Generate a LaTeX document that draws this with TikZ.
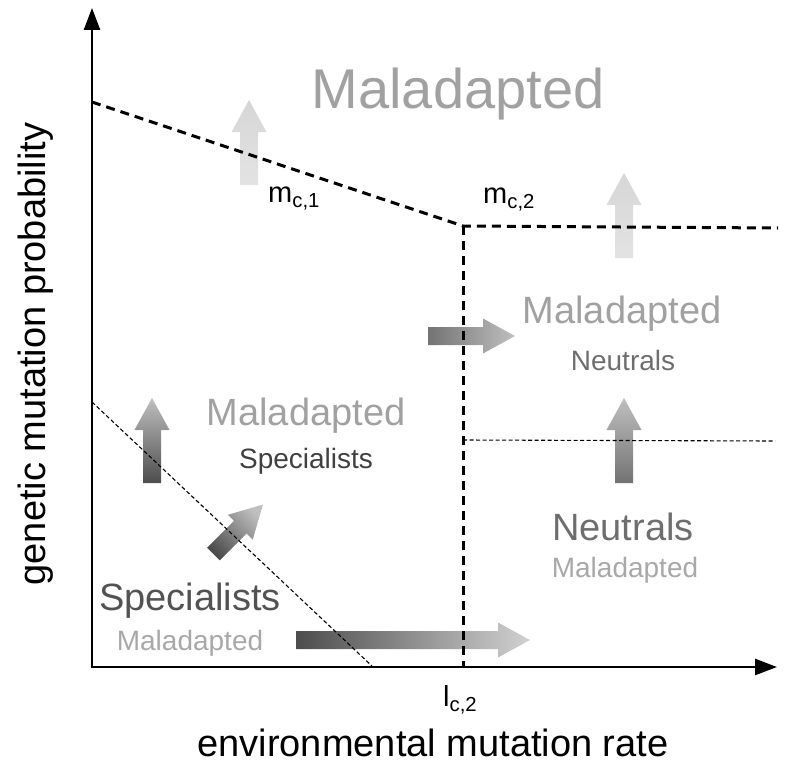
\documentclass[tikz,border=0pt]{standalone}
\usepackage{fontspec}
\setmainfont{Liberation Sans}
\usetikzlibrary{arrows.meta}

% text greys
\definecolor{malgrey}{gray}{0.63}
\definecolor{malpale}{gray}{0.66}
\definecolor{specdark}{gray}{0.25}
\definecolor{specmid}{gray}{0.32}
\definecolor{neutgrey}{gray}{0.43}

% arrow greys
\definecolor{shadeA}{gray}{0.89}
\definecolor{shadeB}{gray}{0.84}
\definecolor{shadeC}{gray}{0.30}
\definecolor{shadeD}{gray}{0.45}
\definecolor{shadeE}{gray}{0.75}
\definecolor{shadeF}{gray}{0.82}

\tikzset{
  axisline/.style={line width=2.6pt, {Triangle[width=16pt,length=22pt]}-{Triangle[width=16pt,length=22pt]}},
  critline/.style={line width=3pt, dash pattern=on 9pt off 6pt},
  thinline/.style={line width=1.1pt, dash pattern=on 4pt off 2.5pt},
  txt/.style={inner sep=0pt, anchor=base},
  titletxt/.style={txt, font=\fontsize{56}{60}\selectfont},
  regionbig/.style={txt, font=\fontsize{38}{42}\selectfont},
  regionsmall/.style={txt, font=\fontsize{28}{32}\selectfont},
  axistxt/.style={txt, font=\fontsize{38}{42}\selectfont},
  crittxt/.style={txt, anchor=base west, font=\fontsize{29}{32}\selectfont},
}

% block arrow: options, start, angle, length
\newcommand{\blockarrow}[4]{%
  \shade[shift={#2}, rotate=#3, #1] (0,-9) -- ({#4-32},-9) -- ({#4-32},-17.5) -- (#4,0)
    -- ({#4-32},17.5) -- ({#4-32},9) -- (0,9) -- cycle;
}

\begin{document}
\begin{tikzpicture}[x=1pt,y=-1pt]
  \useasboundingbox (0,0) rectangle (786,768);

  % Shaded arrows (drawn below the lines)
  \blockarrow{bottom color=shadeA, top color=shadeB}{(249,185)}{90}{85}
  \blockarrow{bottom color=shadeA, top color=shadeB}{(624,258)}{90}{85}
  \blockarrow{left color=shadeD, right color=shadeE}{(428,336)}{0}{87}
  \blockarrow{bottom color=shadeD, top color=shadeE}{(624,483)}{90}{85}
  \blockarrow{bottom color=shadeC, top color=shadeE}{(152,483)}{90}{85}
  \blockarrow{bottom color=shadeC, top color=shadeE, shading angle=-45}{(213.5,554)}{45}{70}
  \blockarrow{left color=shadeC, right color=shadeF}{(296,640)}{0}{234}

  % Axes
  \coordinate (O) at (92,667);
  \coordinate (Ytop) at (92,8);
  \coordinate (Xend) at (777,667);
  \draw[axisline] (Ytop) -- (O) -- (Xend);

  % Critical lines
  \coordinate (M1) at (92,102);
  \coordinate (C) at (463,226);
  \coordinate (M2) at (778,228);
  \coordinate (L2) at (463,667);
  \draw[critline] (M1) -- (C) -- (M2);
  \draw[critline] (C) -- (L2);

  % Thin boundaries
  \coordinate (N1) at (463,440);
  \coordinate (N2) at (775,441);
  \coordinate (S1) at (92,402);
  \coordinate (S2) at (373,667);
  \draw[thinline] (N1) -- (N2);
  \draw[thinline] (S1) -- (S2);

  % Region labels
  \node[titletxt, text=malgrey] (malTop) at (458,108) {Maladapted};
  \node[regionbig, text=malgrey] (malNeut) at (622,323) {Maladapted};
  \node[regionsmall, text=neutgrey] (neutSmall) at (623,370) {Neutrals};
  \node[regionbig, text=malgrey] (malSpec) at (306,425) {Maladapted};
  \node[regionsmall, text=specdark] (specSmall) at (306,468) {Specialists};
  \node[regionbig, text=specmid] (specBig) at (190,610) {Specialists};
  \node[regionsmall, text=malpale] (malLow) at (190,650) {Maladapted};
  \node[regionbig, text=neutgrey] (neutBig) at (623,540) {Neutrals};
  \node[regionsmall, text=malpale] (malRight) at (625,577) {Maladapted};

  % Critical values
  \node[crittxt] (mc1) at (268,202) {m\textsubscript{c,1}};
  \node[crittxt] (mc2) at (483,203) {m\textsubscript{c,2}};
  \node[crittxt] (lc2) at (443,706) {l\textsubscript{c,2}};

  % Axis labels
  \node[axistxt] (xlab) at (433,756) {environmental mutation rate};
  \node[axistxt, rotate=90] (ylab) at (45,354) {genetic mutation probability};
\end{tikzpicture}
\end{document}
